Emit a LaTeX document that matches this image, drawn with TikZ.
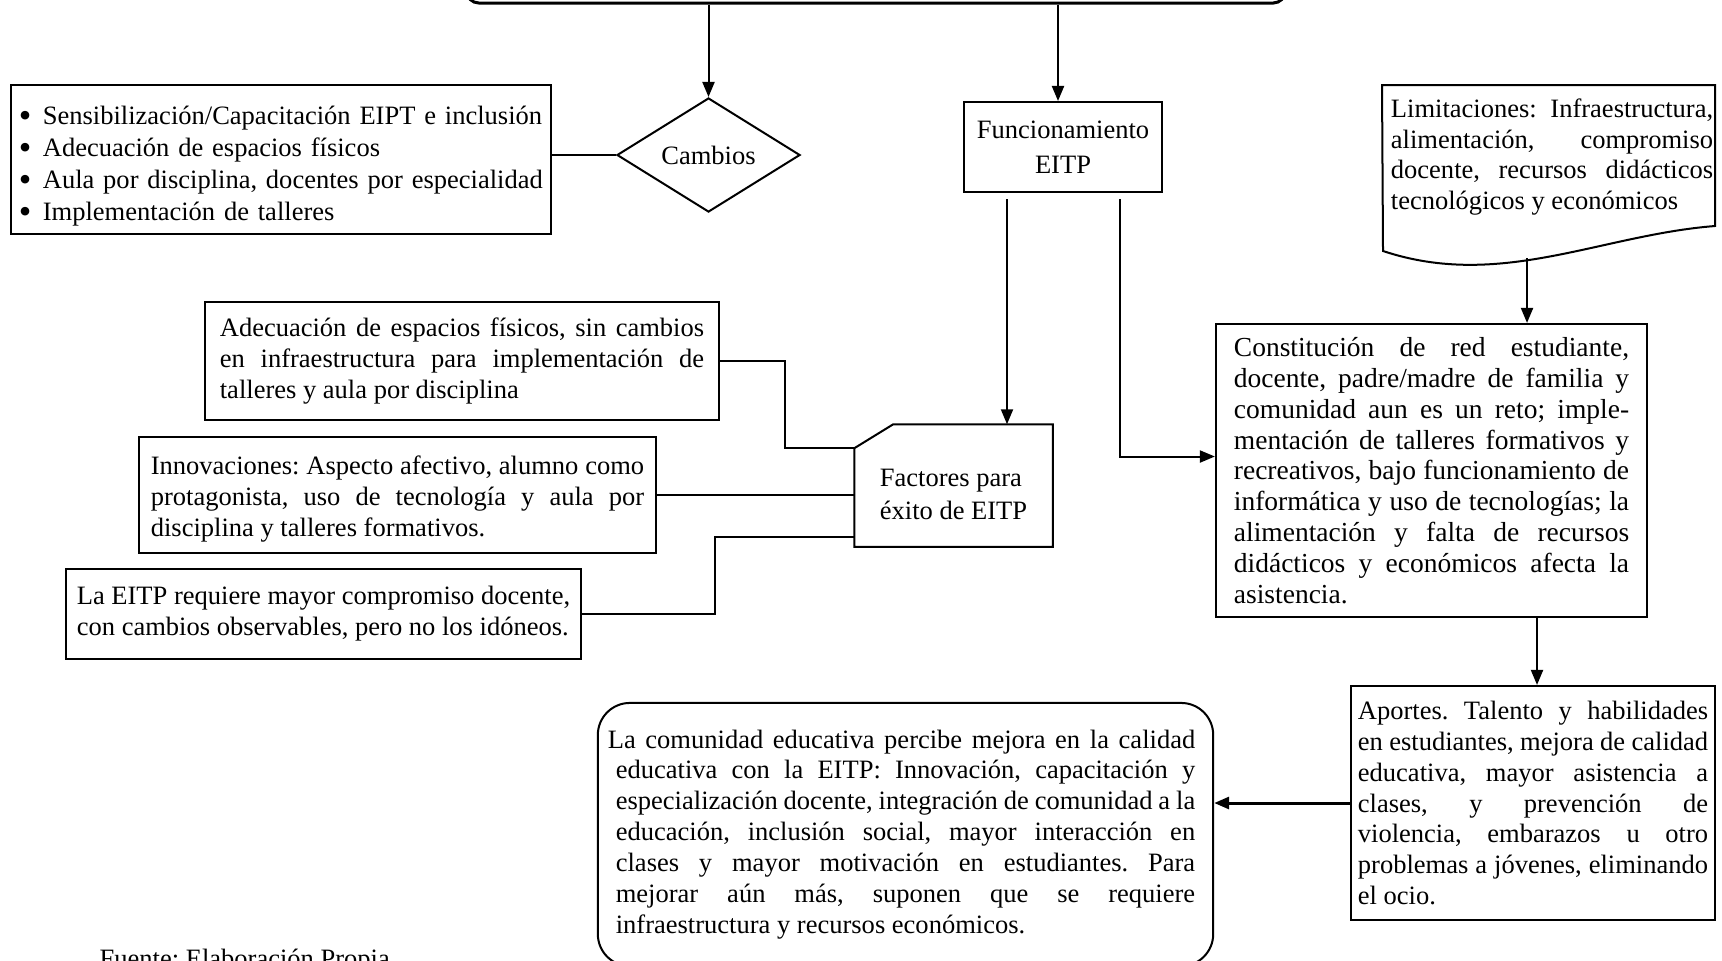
\documentclass[tikz,border=0pt]{standalone}
\usepackage{fontspec}
\setmainfont{Liberation Serif}
\usetikzlibrary{arrows.meta,shapes.geometric,calc}
\newcommand\myfnt[2]{\fontsize{#1}{#2}\selectfont\frenchspacing\tolerance=10000 \hyphenpenalty=10000 \parindent=0pt }
\newcommand\bul{\makebox[0.24cm][l]{\raisebox{-0.12em}{\scalebox{1.35}{\textbullet}}}}
\begin{document}
\begin{tikzpicture}[x=0.01cm,y=-0.01cm,
  every node/.style={font=\myfnt{7.54pt}{8.8pt}},
  ln/.style={line width=0.02cm},
  box/.style={draw, line width=0.02cm, inner sep=0pt, align=justify},
  arr/.style={line width=0.02cm, -{Triangle[length=0.15cm,width=0.12cm]}},
]
\fill[white] (0,0) rectangle (1722,960);
\useasboundingbox (0,0) rectangle (1722,960);

% top box (cut off)
\node[draw, line width=0.03cm, rounded corners=0.12cm, minimum width=8.18cm, minimum height=0.6cm, inner sep=0pt] (top) at (876,-27) {};

% bullets
\node[box, align=left, text width=5.24cm, minimum width=5.40cm, minimum height=1.49cm, font=\myfnt{7.54pt}{9.1pt}] (bul) at (281,159.5)
{\bul\rule{0pt}{0.31cm}Sensibilización/Capacitación EIPT e inclusión\\
 \bul Adecuación de espacios físicos\\
 \bul Aula por disciplina, docentes por especialidad\\
 \bul Implementación de talleres};

% diamond
\node[draw, ln, diamond, aspect=1.6, inner sep=0pt, minimum width=1.83cm, minimum height=1.14cm] (dia) at (708.5,155) {Cambios};

% funcionamiento
\node[box, align=center, minimum width=1.98cm, minimum height=0.90cm] (func) at (1063,147) {Funcionamiento\\[1.2pt]EITP};

% limitaciones (document shape)
\node[inner sep=0pt, text width=3.22cm, align=justify] (lim) at (1552,157)
{Limitaciones: Infraestructura,\linebreak alimentación, compromiso\linebreak docente, recursos didácticos\linebreak tecnológicos y económicos};
\draw[ln] (1382,85) -- (1715,85) -- (1715,226) .. controls (1600,235) and (1500,290) .. (1383,251) -- cycle;
\coordinate (limb) at (1527,258);

% constitucion
\node[box, text width=3.95cm, minimum width=4.31cm, minimum height=2.93cm, font=\myfnt{7.82pt}{8.76pt}] (con) at (1431.5,470.5)
{Constitución de red estudiante,\linebreak docente, padre/madre de familia y\linebreak comunidad aun es un reto; imple-\linebreak mentación de talleres formativos y\linebreak recreativos, bajo funcionamiento de\linebreak informática y uso de tecnologías; la\linebreak alimentación y falta de recursos\linebreak didácticos y económicos afecta la\linebreak asistencia.};

% aportes
\node[box, text width=3.50cm, minimum width=3.64cm, minimum height=2.34cm] (ap) at (1533,803)
{Aportes. Talento y habilidades\linebreak en estudiantes, mejora de calidad\linebreak educativa, mayor asistencia a\linebreak clases, y prevención de\linebreak violencia, embarazos u otro\linebreak problemas a jóvenes, eliminando\linebreak el ocio.};

% bottom rounded box
\node[box, rounded corners=0.32cm, text width=5.79cm, minimum width=6.15cm, minimum height=2.63cm] (bot) at (905.5,834.5)
{\hspace*{-0.08cm}La comunidad educativa percibe mejora en la calidad\linebreak educativa con la EITP: Innovación, capacitación y\linebreak especialización docente, integración de comunidad a la\linebreak educación, inclusión social, mayor interacción en\linebreak clases y mayor motivación en estudiantes. Para\linebreak mejorar aún más, suponen que se requiere\linebreak infraestructura y recursos económicos.};

% factores
\node[inner sep=0pt, align=left, minimum width=1.97cm, minimum height=1.21cm] (fac) at (953.5,485.5)
{\rule{0pt}{0.36cm}Factores para\\[0.6pt]éxito de EITP};
\draw[ln] ($(fac.north west)+(0,24)$) -- ($(fac.north west)+(39,0)$) -- (fac.north east) -- (fac.south east) -- (fac.south west) -- cycle;

% left boxes
\node[box, text width=4.84cm, minimum width=5.14cm, minimum height=1.18cm] (adec) at (462,361)
{Adecuación de espacios físicos, sin cambios\linebreak en infraestructura para implementación de\linebreak talleres y aula por disciplina};
\node[box, text width=4.93cm, minimum width=5.17cm, minimum height=1.16cm] (inn) at (397.5,495)
{\rule{0pt}{0.26cm}Innovaciones: Aspecto afectivo, alumno como\linebreak protagonista, uso de tecnología y aula por\linebreak disciplina y talleres formativos.};
\node[box, align=left, minimum width=5.15cm, minimum height=0.90cm] (eitp) at (323.5,614)
{La EITP requiere mayor compromiso docente,\\con cambios observables, pero no los idóneos.};

\node[anchor=base west, inner sep=0pt] (fuente) at (99,967) {Fuente: Elaboración Propia};

% connectors
\draw[arr] (top.south -| dia.north) -- (dia.north);
\coordinate (a2) at ($(func.north)+(-5,0)$);
\draw[arr] (top.south -| a2) -- (a2);
\draw[ln] (bul.east |- dia.west) -- (dia.west);
\coordinate (f1) at (1007,199);
\coordinate (f2) at (1120,199);
\draw[arr] (f1) -- (f1 |- fac.north);
\draw[arr] (f2) |- ($(con.west)+(0,-14)$);
\draw[arr] (limb) -- (limb |- con.north);
\draw[arr] ($(con.south)+(105.5,0)$) -- ($(ap.north)+(4,0)$);
\draw[arr, line width=0.03cm] (ap.west) -- (ap.west -| bot.east);
\draw[ln] (adec.east) -- (785,361) |- ($(fac.north west)+(0,24)$);
\draw[ln] (inn.east) -- (inn.east -| fac.west);
\draw[ln] (eitp.east) -- (715,614) |- ($(fac.south west)+(0,-10)$);
\end{tikzpicture}
\end{document}
